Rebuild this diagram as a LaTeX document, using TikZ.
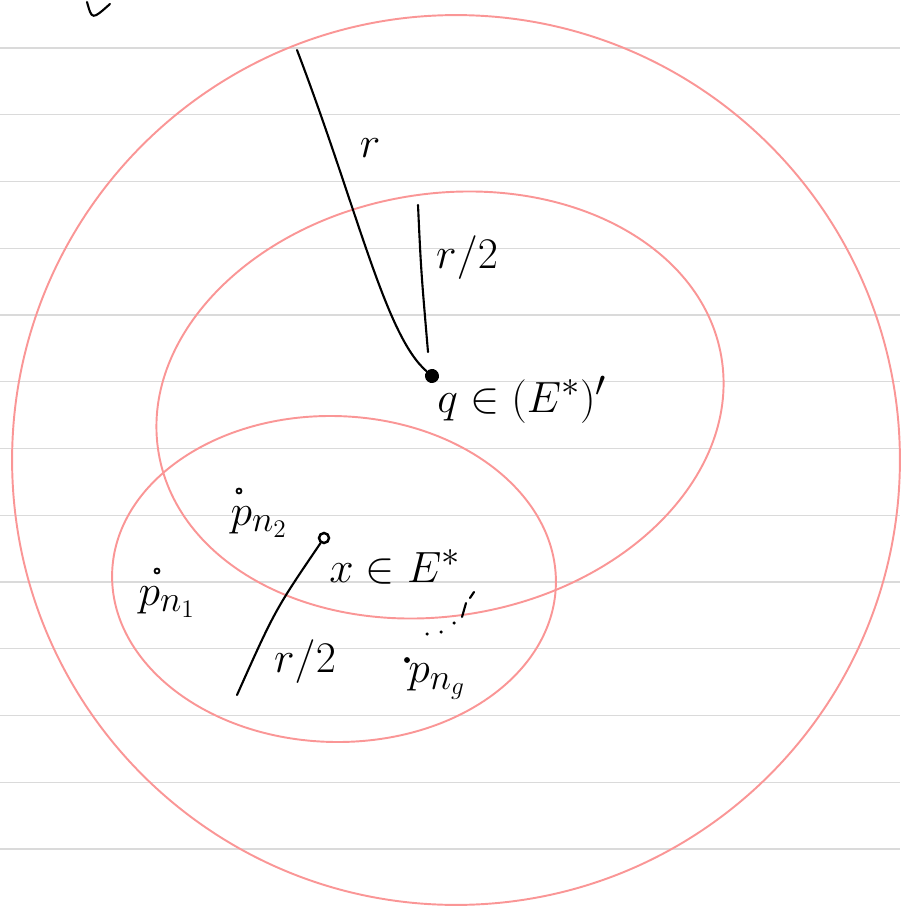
\documentclass[tikz,border=0pt]{standalone}
\usepackage{amsmath, amssymb}
\usetikzlibrary{arrows.meta, positioning}

\definecolor{penpink}{RGB}{250,150,150}
\definecolor{rulegray}{RGB}{218,218,218}

\begin{document}
\begin{tikzpicture}[
  x=0.02cm, y=-0.02cm,
  rule/.style={draw=rulegray, line width=0.8pt},
  ring/.style={draw=penpink, line width=1.1pt},
  ink/.style={draw=black, line width=1.2pt, line cap=round},
  lbl/.style={inner sep=0pt, font=\fontsize{28}{32}\selectfont},
  pt/.style={circle, draw=black, line width=1pt, inner sep=0pt, minimum size=0.1cm},
  dotmark/.style={circle, fill=black, inner sep=0pt, minimum size=0.07cm}
]
\useasboundingbox (0,0) rectangle (900,908);
% ruled paper
\foreach \k in {0,...,12} {
  \draw[rule] (0,{48+66.75*\k}) -- (900,{48+66.75*\k});
}

% the three regions
\draw[ring] (456,460) ellipse [x radius=8.88cm, y radius=8.9cm];
\draw[ring] (440,405) ellipse [x radius=5.71cm, y radius=4.22cm, rotate=9.8];
\draw[ring] (334,579) ellipse [x radius=4.44cm, y radius=3.26cm, rotate=-1.5];

% points
\node[circle, fill=black, inner sep=0pt, minimum width=0.28cm, minimum height=0.24cm, rotate=30] (q) at (432,376) {};
\node[pt, minimum size=0.2cm, line width=1.4pt] (x) at (324,538) {};
\node[pt] (dn1) at (157,571) {};
\node[pt] (dn2) at (239,491) {};
\node[pt, fill=black, minimum size=0.08cm] (dng) at (407,660) {};

% labels
\node[lbl] (rlab) at (370,148) {$r$};
\node[lbl] (rhalfa) at (467,258) {$r/2$};
\node[lbl] (qlab) at (522,400) {$q\in(E^*)'$};
\node[lbl] (xlab) at (395,567) {$x\in E^*$};
\node[lbl] (rhalfb) at (305,662) {$r/2$};
\node[lbl] (pn1) at (167,602) {$p_{n_1}$};
\node[lbl] (pn2) at (259,522) {$p_{n_2}$};
\node[lbl] (png) at (437,682) {$p_{n_g}$};

% dots towards p_ng
\node[dotmark] (d1) at (427,634) {};
\node[dotmark] (d2) at (441,632) {};
\node[dotmark] (d3) at (454,623) {};

% radii
\coordinate (rtop) at (297,50);
\coordinate (rhtop) at (418,205);
\coordinate (rhbot) at (428,352);
\coordinate (xend) at (237,695);
\draw[ink] (rtop) .. controls (358,210) and (385,335) .. (q);
\draw[ink] (rhtop) .. controls (421,270) .. (rhbot);
\draw[ink] (x) .. controls (275,610) .. (xend);

% stray strokes
\coordinate (s1) at (87,2);
\coordinate (s2) at (110,4);
\draw[ink] (s1) .. controls (92,20) .. (s2);
\coordinate (t1) at (462,617);
\coordinate (t2) at (466,603);
\coordinate (t3) at (470,598);
\coordinate (t4) at (474,592);
\draw[ink] (t1) -- (t2);
\draw[ink] (t3) -- (t4);
\end{tikzpicture}
\end{document}
